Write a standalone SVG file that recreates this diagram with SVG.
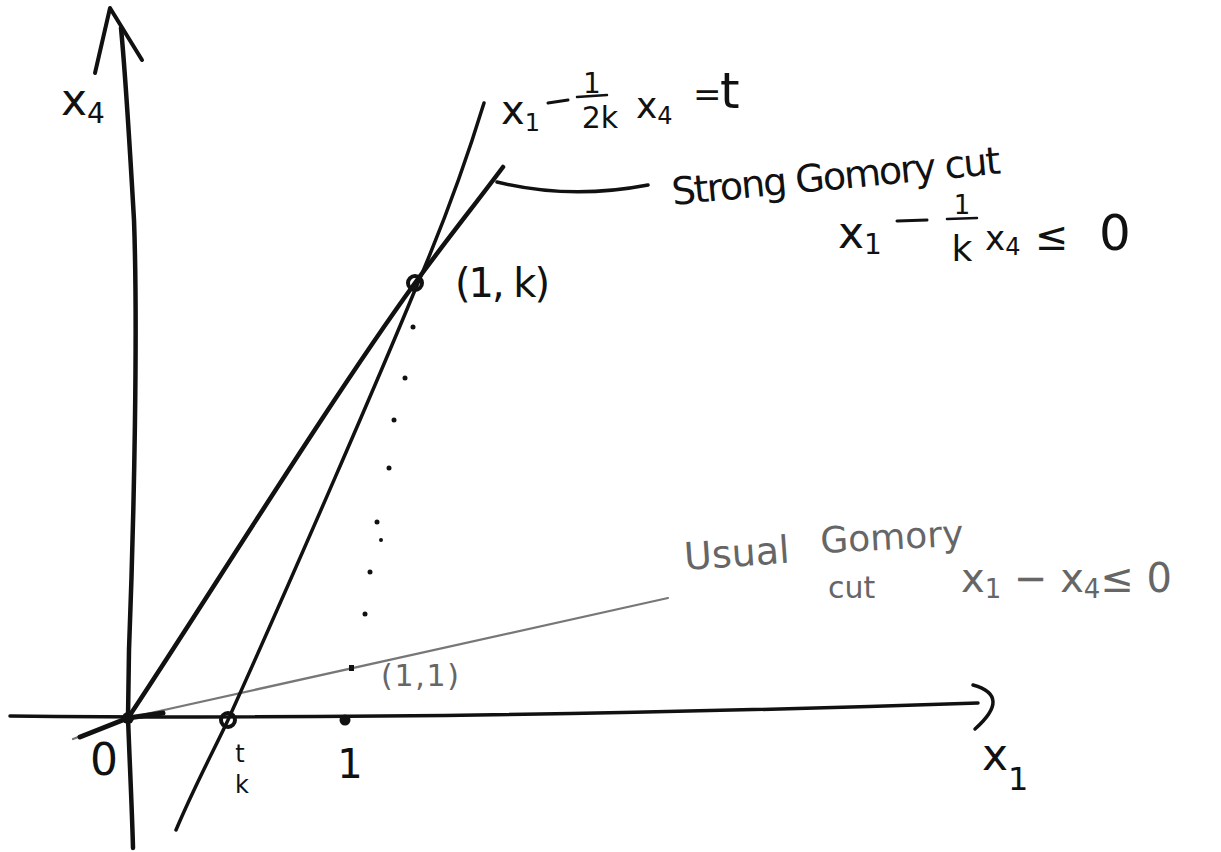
<svg xmlns="http://www.w3.org/2000/svg" width="1221" height="852" viewBox="0 0 1221 852">
<style>
.ink{fill:none;stroke:#111;stroke-linecap:round;stroke-linejoin:round}
.faint{fill:none;stroke:#777;stroke-linecap:round;stroke-linejoin:round}
.t{font-family:"DejaVu Sans","Liberation Sans",sans-serif;fill:#111}
.tg{font-family:"DejaVu Sans","Liberation Sans",sans-serif;fill:#666}
.dot{fill:#111}
</style>
<rect width="1221" height="852" fill="#fff"/>
<g id="axes">
  <path class="ink" stroke-width="4.5" d="M121,28 C125,70 130,150 134,220 C138,330 134,520 129,650 L128,718 C130,770 132,810 133,848"/>
  <path class="ink" stroke-width="4" d="M95,73 L110,8 L142,60"/>
  <path class="ink" stroke-width="3.5" d="M10,716 C300,719 650,714 978,703"/>
  <path class="ink" stroke-width="3.5" d="M973,685 Q1012,696 975,729"/>
</g>
<g id="connectors">
  <path id="usual-cut" class="faint" stroke-width="2.2" d="M73,739 L128,718 C250,692 450,648 668,598"/>
  <path class="ink" stroke-width="5" d="M80,737 L128,718 L163,713"/>
  <path id="strong-cut" class="ink" stroke-width="4.5" d="M128,718 C200,610 330,400 415,283 C445,242 480,198 503,167"/>
  <path id="t-line" class="ink" stroke-width="3.5" d="M176,830 C195,785 215,748 228,720 C300,560 380,375 415,290 C440,232 465,165 484,103"/>
  <path id="leader" class="ink" stroke-width="3.5" d="M497,182 Q570,200 648,185"/>
  <g id="dotted">
    <circle class="dot" cx="413" cy="327" r="2.5"/>
    <circle class="dot" cx="405" cy="378" r="2.5"/>
    <circle class="dot" cx="394" cy="420" r="2.5"/>
    <circle class="dot" cx="389" cy="468" r="2.5"/>
    <circle class="dot" cx="377" cy="522" r="2.5"/>
    <circle class="dot" cx="381" cy="540" r="2"/>
    <circle class="dot" cx="370" cy="572" r="2.5"/>
    <circle class="dot" cx="365" cy="614" r="2.5"/>
    <rect class="dot" x="349" y="665" width="5" height="6"/>
  </g>
</g>
<g id="points">
  <circle id="pt-origin" class="dot" cx="128" cy="718" r="6"/>
  <circle id="pt-1k" cx="415" cy="283" r="7" fill="none" stroke="#111" stroke-width="4"/>
  <circle id="pt-tk" cx="228" cy="720" r="7" fill="none" stroke="#111" stroke-width="4"/>
  <circle id="pt-1" class="dot" cx="345" cy="720" r="5.5"/>
</g>
<g id="labels">
  <text class="t" x="61" y="115" font-size="44">x<tspan font-size="28" dy="8">4</tspan></text>
  <g id="label-tline">
    <text class="t" x="501" y="124" font-size="40">x<tspan font-size="24" dy="7">1</tspan></text>
    <path class="ink" stroke-width="3" d="M548,103 L568,100"/>
    <text class="t" x="592" y="93" font-size="28" text-anchor="middle">1</text>
    <path class="ink" stroke-width="2.5" d="M577,97 L607,95"/>
    <text class="t" x="600" y="128" font-size="30" text-anchor="middle">2k</text>
    <text class="t" x="636" y="118" font-size="36">x<tspan font-size="24" dy="6">4</tspan></text>
    <text class="t" x="693" y="106" font-size="34">=</text>
    <text class="t" x="720" y="108" font-size="50">t</text>
  </g>
  <text class="t" x="455" y="297" font-size="40" textLength="95" lengthAdjust="spacing">(1, k)</text>
  <text class="t" x="673" y="205" font-size="38" transform="rotate(-5.5 673 205)" textLength="330" lengthAdjust="spacing">Strong Gomory cut</text>
  <g id="label-strong-ineq">
    <text class="t" x="838" y="248" font-size="44">x<tspan font-size="28" dy="6">1</tspan></text>
    <path class="ink" stroke-width="3" d="M897,221 L927,220"/>
    <text class="t" x="962" y="214" font-size="26" text-anchor="middle">1</text>
    <path class="ink" stroke-width="2.5" d="M947,219 L977,218"/>
    <text class="t" x="962" y="261" font-size="36" text-anchor="middle">k</text>
    <text class="t" x="985" y="250" font-size="34">x<tspan font-size="24" dy="5">4</tspan></text>
    <text class="t" x="1035" y="250" font-size="40">≤</text>
    <text class="t" x="1099" y="250" font-size="50">0</text>
  </g>
  <g id="label-usual">
    <text class="tg" x="685" y="570" font-size="38" transform="rotate(-4 685 570)">Usual</text>
    <text class="tg" x="821" y="553" font-size="36" transform="rotate(-3 821 553)">Gomory</text>
    <text class="tg" x="828" y="598" font-size="30">cut</text>
    <text class="tg" x="961" y="592" font-size="40">x<tspan font-size="26" dy="6">1</tspan><tspan dy="-6"> − x</tspan><tspan font-size="26" dy="6">4</tspan><tspan dy="-6">≤ 0</tspan></text>
  </g>
  <text class="tg" x="381" y="686" font-size="30" textLength="78" lengthAdjust="spacing">(1,1)</text>
  <text class="t" x="104" y="775" font-size="44" text-anchor="middle">0</text>
  <text class="t" x="240" y="762" font-size="24" text-anchor="middle">t</text>
  <text class="t" x="242" y="793" font-size="24" text-anchor="middle">k</text>
  <text class="t" x="350" y="778" font-size="40" text-anchor="middle">1</text>
  <text class="t" x="982" y="770" font-size="44">x<tspan font-size="32" dy="20">1</tspan></text>
</g>
</svg>
